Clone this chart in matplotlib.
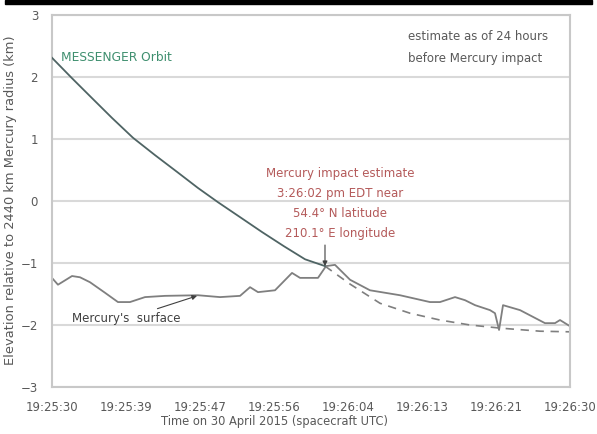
import numpy as np
import matplotlib.pyplot as plt
from matplotlib.patches import Rectangle

# seconds after 19:25:00 UTC, elevation in km (relative to 2440 km radius)
orbit_t = [30.0, 32.32, 34.63, 36.95, 39.38, 41.93, 44.48, 46.91, 49.23,
           51.78, 54.32, 56.87, 59.31, 61.62]
orbit_v = [2.31, 1.98, 1.66, 1.34, 1.02, 0.74, 0.47, 0.21, -0.02,
           -0.26, -0.50, -0.73, -0.94, -1.05]

extrap_t = [61.62, 64.52, 68.0, 71.47, 74.94, 78.42, 81.89, 86.53, 90.0]
extrap_v = [-1.05, -1.34, -1.65, -1.81, -1.92, -2.00, -2.05, -2.10, -2.11]

surface_t = [30.12, 30.69, 31.16, 32.32, 33.24, 34.40, 36.14, 37.64, 39.03, 40.77,
             43.09, 46.91, 49.46, 51.78, 52.94, 53.86, 55.83, 57.80, 58.73, 60.81,
             61.74, 62.78, 64.52, 66.83, 70.31, 73.78, 74.94, 76.68, 77.84, 79.0,
             80.73, 81.31, 81.78, 82.24, 84.21, 87.10, 88.26, 88.84, 90.0]
surface_v = [-1.26, -1.35, -1.31, -1.21, -1.23, -1.31, -1.48, -1.63, -1.63, -1.55,
             -1.53, -1.52, -1.55, -1.53, -1.39, -1.47, -1.44, -1.16, -1.24, -1.24,
             -1.05, -1.03, -1.27, -1.44, -1.52, -1.63, -1.63, -1.55, -1.60, -1.68,
             -1.76, -1.81, -2.08, -1.68, -1.76, -1.97, -1.97, -1.92, -2.02]

x_ticks = np.linspace(30, 90, 8)
x_labels = ['19:25:30', '19:25:39', '19:25:47', '19:25:56',
            '19:26:04', '19:26:13', '19:26:21', '19:26:30']
y_ticks = [-3, -2, -1, 0, 1, 2, 3]

impact_t, impact_v = orbit_t[-1], orbit_v[-1]

txt = '#595959'
grid = '#d9d9d9'

fig = plt.figure(figsize=(5.97, 4.34), dpi=100)
ax = fig.add_axes([0.0871, 0.1083, 0.8677, 0.8571])

ax.plot(orbit_t, orbit_v, color='#4f6464', lw=1.3, zorder=3)
ax.plot(extrap_t, extrap_v, color='#7f7f7f', lw=1.2, ls=(0, (5, 4)), zorder=2)
ax.plot(surface_t, surface_v, color='#7f7f7f', lw=1.3, zorder=2)

ax.set_xlim(30, 90)
ax.set_ylim(-3, 3)
ax.set_xticks(x_ticks)
ax.set_xticklabels(x_labels)
ax.set_yticks(y_ticks)
ax.tick_params(axis='both', colors=txt, labelsize=8.5, length=0)
ax.tick_params(axis='x', pad=10)
ax.tick_params(axis='y', pad=10)
ax.yaxis.grid(True, color=grid, lw=1.5)
ax.set_axisbelow(True)
for s in ax.spines.values():
    s.set_color('#c8c8c8')
    s.set_linewidth(1.5)

ax.text(31.0, 2.31, 'MESSENGER Orbit', color='#3f8f6f', fontsize=8.8,
        va='center', ha='left')
ax.text(71.24, 2.476, 'estimate as of 24 hours\nbefore Mercury impact',
        color=txt, fontsize=8.5, va='center', ha='left', linespacing=1.9)
ax.text(63.36, -0.04, 'Mercury impact estimate\n3:26:02 pm EDT near\n54.4° N latitude\n210.1° E longitude',
        color='#b45a5a', fontsize=8.5, va='center', ha='center', linespacing=1.7)
ax.annotate('', xy=(impact_t, impact_v), xytext=(impact_t, -0.71),
            arrowprops=dict(arrowstyle='-|>', color='#404040', lw=0.8,
                            mutation_scale=7, shrinkA=0, shrinkB=0))
ax.annotate("Mercury's  surface", xy=(46.8, -1.53), xytext=(32.3, -1.9),
            color='#404040', fontsize=8.5, va='center', ha='left',
            arrowprops=dict(arrowstyle='-|>', color='#404040', lw=0.8,
                            mutation_scale=7, shrinkA=2, shrinkB=0))

fig.text(0.018, 0.539, 'Elevation relative to 2440 km Mercury radius (km)',
         rotation=90, color=txt, fontsize=9.4, ha='center', va='center')
fig.text(0.459, 0.028, 'Time on 30 April 2015 (spacecraft UTC)',
         color=txt, fontsize=8.3, ha='center', va='center')

fig.patches.append(Rectangle((0.008, 0.991), 0.984, 0.009, transform=fig.transFigure,
                             color='black', zorder=5))

fig.savefig('out.png', dpi=100)
